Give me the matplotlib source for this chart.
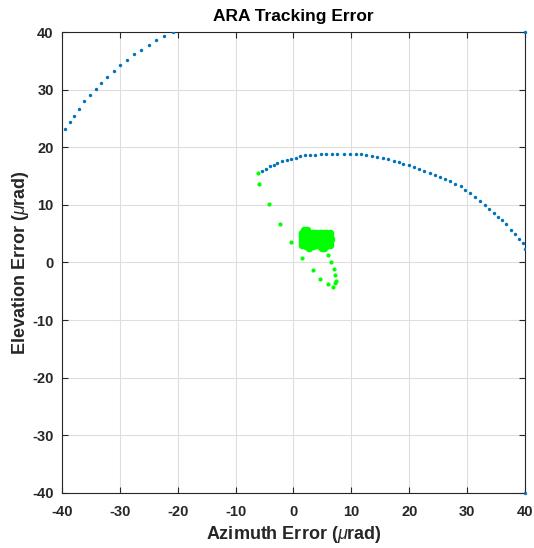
import matplotlib
matplotlib.use("Agg")
import matplotlib.pyplot as plt

# Blue track, upper-left arc (clipped by the axes)
arc1_az = [-39.5, -38.6, -37.9, -37.0, -36.2, -35.2, -34.2, -33.3, -32.2,
           -31.1, -30.0, -28.8, -27.6, -26.3, -25.0, -23.7, -22.3, -20.9]
arc1_el = [23.1, 24.3, 25.5, 26.7, 28.0, 29.0, 30.1, 31.2, 32.2,
           33.2, 34.2, 35.1, 36.1, 36.9, 37.7, 38.6, 39.3, 40.0]

# Blue track, main arc
arc2_az = [-5.5, -4.8, -4.1, -3.4, -2.8, -2.0, -1.2, -0.45, 0.36, 1.2, 2.0,
           2.9, 3.8, 4.8, 5.7, 6.6, 7.6, 8.7, 9.7, 10.8, 11.7, 12.6, 13.6,
           14.5, 15.5, 16.4, 17.3, 18.2, 19.0, 19.9, 20.8, 21.7, 22.6, 23.6,
           24.4, 25.3, 26.2, 27.1, 27.9, 28.9, 29.7, 30.5, 31.4, 32.3, 33.1,
           33.8, 34.6, 35.3, 36.1, 36.8, 37.6, 38.3, 38.9, 39.6, 40.0]
arc2_el = [15.9, 16.3, 16.7, 17.0, 17.3, 17.6, 17.8, 18.0, 18.2, 18.4, 18.6,
           18.7, 18.7, 18.8, 18.8, 18.9, 18.9, 18.9, 18.9, 18.9, 18.8, 18.7, 18.5,
           18.3, 18.1, 17.9, 17.6, 17.4, 17.1, 16.9, 16.5, 16.2, 15.9, 15.6,
           15.2, 14.9, 14.5, 14.1, 13.7, 13.2, 12.6, 12.0, 11.4, 10.7, 10.0,
           9.3, 8.6, 7.9, 7.3, 6.6, 5.7, 4.9, 4.1, 3.3, 2.4]

# Blue points pinned at the axis limits
edge_az = [40.0, 40.0]
edge_el = [40.0, -40.0]

# Green track: acquisition transient
trans_az = [-6.2, -5.9, -4.3, -2.4, -0.45, 1.5, 3.3, 4.6, 5.9, 6.8, 7.2,
            7.3, 7.2, 7.0, 6.4, 5.9]
trans_el = [15.5, 13.7, 10.1, 6.6, 3.5, 0.8, -1.3, -2.9, -3.8, -4.2, -3.6,
            -3.2, -2.2, -1.2, 0.1, 1.3]

# Green track: settled cluster
clus_az = [1.5, 2.1, 2.7, 3.3, 3.9, 4.5, 5.1, 5.7, 6.3,
           1.4, 2.0, 2.6, 3.2, 3.8, 4.4, 5.0, 5.6, 6.3,
           1.5, 2.1, 2.7, 3.3, 3.9, 4.5, 5.1, 5.7, 6.4,
           1.4, 2.0, 2.6, 3.2, 3.8, 4.4, 5.0, 5.6, 6.3,
           1.5, 2.1, 2.7, 3.3, 3.9, 4.5, 5.1, 5.7, 6.3,
           1.8, 2.3, 2.6, 4.9, 5.3]
clus_el = [5.2, 5.1, 5.2, 5.1, 5.2, 5.1, 5.2, 5.1, 5.1,
           4.6, 4.6, 4.5, 4.6, 4.5, 4.6, 4.5, 4.6, 4.6,
           4.0, 4.1, 4.0, 4.1, 4.0, 4.1, 4.0, 4.1, 4.0,
           3.5, 3.5, 3.4, 3.5, 3.4, 3.5, 3.4, 3.5, 3.5,
           3.0, 2.9, 3.0, 2.9, 3.0, 2.9, 3.0, 2.9, 3.0,
           5.7, 5.6, 2.5, 2.6, 2.5]

ticks = [-40, -30, -20, -10, 0, 10, 20, 30, 40]

plt.rcParams['font.family'] = ['Liberation Sans', 'DejaVu Sans']
plt.rcParams['font.weight'] = 'bold'
plt.rcParams['axes.unicode_minus'] = False
plt.rcParams['mathtext.fontset'] = 'custom'
plt.rcParams['mathtext.it'] = 'Liberation Sans:style=italic:weight=normal'
plt.rcParams['mathtext.rm'] = 'Liberation Sans:weight=normal'

fig = plt.figure(figsize=(5.34, 5.48), dpi=100)
ax = fig.add_axes([0.1161, 0.1004, 0.867, 0.8412])

blue = '#0072BD'
green = '#00FF00'
ax.scatter(arc1_az, arc1_el, s=6, color=blue, linewidths=0, zorder=3)
ax.scatter(arc2_az, arc2_el, s=6, color=blue, linewidths=0, zorder=3)
ax.scatter(edge_az, edge_el, s=6, color=blue, linewidths=0, zorder=3, clip_on=False)
ax.scatter(trans_az, trans_el, s=9, color=green, linewidths=0, zorder=4)
ax.scatter(clus_az, clus_el, s=30, color=green, linewidths=0, zorder=4)

ax.set_xlim(-40, 40)
ax.set_ylim(-40, 40)
ax.set_xticks(ticks)
ax.set_yticks(ticks)
ax.grid(True, color='#dedede', linewidth=0.8)
ax.set_axisbelow(True)
ax.tick_params(direction='in', top=True, right=True, length=4, width=0.8,
               color='#262626', labelsize=10.5, labelcolor='#262626')
ax.tick_params(axis='x', pad=9)
ax.tick_params(axis='y', pad=6)
for sp in ax.spines.values():
    sp.set_color('#262626')
    sp.set_linewidth(0.8)

ax.set_title('ARA Tracking Error', fontsize=12.5, fontweight='bold', pad=8)
ax.set_xlabel(r'Azimuth Error ($\mu$rad)', fontsize=13, fontweight='bold',
              color='#262626', labelpad=3)
ax.set_ylabel(r'Elevation Error ($\mu$rad)', fontsize=13, fontweight='bold',
              color='#262626', labelpad=1)

fig.savefig('out.png', dpi=100)
